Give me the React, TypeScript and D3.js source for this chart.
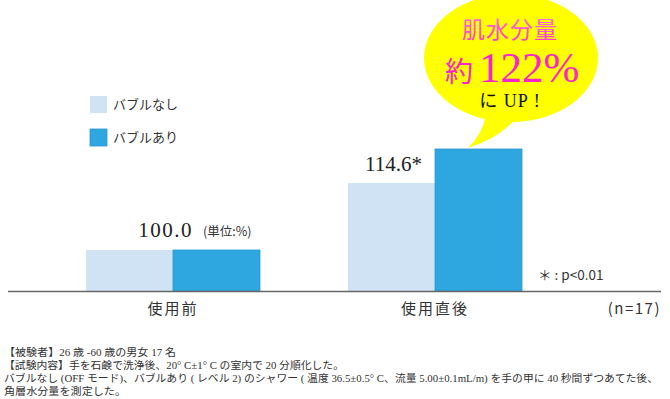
import React from 'react';
import * as d3 from 'd3';

// data
const categories = ['使用前', '使用直後'];
const seriesNames = ['バブルなし', 'バブルあり'];
const valuesNashi = [100, 114.6];
const valuesAri = [100, 122];
const valueLabels = ['100.0', '114.6*'];
const footnotes = [
  '【被験者】26 歳 -60 歳の男女 17 名',
  '【試験内容】手を石鹸で洗浄後、20° C±1° C の室内で 20 分順化した。',
  'バブルなし (OFF モード)、バブルあり ( レベル 2) のシャワー ( 温度 36.5±0.5° C、流量 5.00±0.1mL/m) を手の甲に 40 秒間ずつあてた後、',
  '角層水分量を測定した。',
];
const footWidths = [172, 340, 654, 122];

const W = 670;
const H = 399;
const colors = ['#cfe3f5', '#2ea6e0'];
const serif = '"Liberation Serif", "Noto Sans CJK JP", serif';
const sans = '"Noto Sans CJK JP", "Noto Sans", sans-serif';

export default function App() {
  const baseY = 291;
  const x0 = d3.scaleBand<string>().domain(categories).range([86, 522]).paddingInner(0.336).paddingOuter(0);
  const x1 = d3.scaleBand<string>().domain(seriesNames).range([0, x0.bandwidth()]);
  const y = d3.scaleLinear().domain([91.07, 122]).range([baseY, 149]);

  const series = [valuesNashi, valuesAri];

  return (
    <svg width={W} height={H} style={{ position: 'absolute', left: 0, top: 0, background: '#fff' }}>
      {/* bars */}
      {categories.map((c, i) => (
        <g key={c}>
          {seriesNames.map((s, j) => (
            <rect
              key={s}
              x={(x0(c) as number) + (x1(s) as number)}
              y={y(series[j][i])}
              width={x1.bandwidth()}
              height={baseY - y(series[j][i])}
              fill={colors[j]}
              stroke={j === 1 ? '#2a9ad6' : 'none'}
              strokeWidth={j === 1 ? 0.8 : 0}
            />
          ))}
        </g>
      ))}

      {/* axis line */}
      <line x1={8} x2={661} y1={baseY + 0.5} y2={baseY + 0.5} stroke="#666" strokeWidth={1.5} />

      {/* category labels */}
      {categories.map((c) => (
        <text
          key={c}
          x={(x0(c) as number) + x0.bandwidth() / 2}
          y={314}
          textAnchor="middle"
          fontFamily={sans}
          fontSize={15}
          letterSpacing={2}
          fill="#333"
        >
          {c}
        </text>
      ))}
      <text x={661} y={314} textAnchor="end" fontFamily={sans} fontSize={15} letterSpacing={1.5} fill="#333">
        (n=17)
      </text>

      {/* value labels */}
      <text
        x={(x0(categories[0]) as number) + x0.bandwidth() / 2 + 20}
        y={y(valuesNashi[0]) - 13}
        textAnchor="end"
        fontFamily={serif}
        fontSize={21}
        letterSpacing={1.5}
        fill="#222"
      >
        {valueLabels[0]}
      </text>
      <text
        x={(x0(categories[0]) as number) + x0.bandwidth() / 2 + 30}
        y={y(valuesNashi[0]) - 14}
        fontFamily={sans}
        fontSize={12.5}
        fill="#333"
      >
        (単位:%)
      </text>
      <text
        x={(x0(categories[1]) as number) + x1.bandwidth() - 13}
        y={y(valuesNashi[1]) - 12}
        textAnchor="end"
        fontFamily={serif}
        fontSize={21}
        fill="#222"
      >
        {valueLabels[1]}
      </text>
      <text x={538} y={280} fontFamily={sans} fontSize={13.5} fill="#333">
        ＊ : p&lt;0.01
      </text>

      {/* legend */}
      {seriesNames.map((s, j) => (
        <g key={s} transform={`translate(90,${96 + j * 33})`}>
          <rect width={17} height={17} fill={colors[j]} stroke={j === 1 ? '#2a9ad6' : 'none'} strokeWidth={0.8} />
          <text x={23} y={13} fontFamily={sans} fontSize={13} fill="#333">
            {s}
          </text>
        </g>
      ))}

      {/* speech bubble */}
      <defs>
        <linearGradient id="pinkGrad" x1="0" y1="0" x2="0" y2="1">
          <stop offset="0" stopColor="#ff77dd" />
          <stop offset="1" stopColor="#ff33cc" />
        </linearGradient>
      </defs>
      <ellipse cx={511} cy={58} rx={87} ry={64} fill="#ffff00" />
      <path d="M486,115 Q482,135 468,148 Q500,138 516,118 Z" fill="#ffff00" />
      <text x={510} y={38} textAnchor="middle" fontFamily={sans} fontSize={23} letterSpacing={1} fill="url(#pinkGrad)">
        肌水分量
      </text>
      <text x={445} y={82} fontFamily={serif} fill="#ff22cc">
        <tspan fontSize={28} fontFamily={sans}>約</tspan>
        <tspan fontSize={43} dx={6}>122%</tspan>
      </text>
      <text x={510} y={107} textAnchor="middle" fontFamily={serif} fontSize={18} letterSpacing={1} fill="#111">
        に UP !
      </text>

      {/* footnotes */}
      {footnotes.map((t, i) => (
        <text
          key={i}
          x={4}
          y={356 + i * 13}
          fontFamily={serif}
          fontSize={10.5}
          fill="#333"
          textLength={footWidths[i]}
          lengthAdjust="spacingAndGlyphs"
        >
          {t}
        </text>
      ))}
    </svg>
  );
}
